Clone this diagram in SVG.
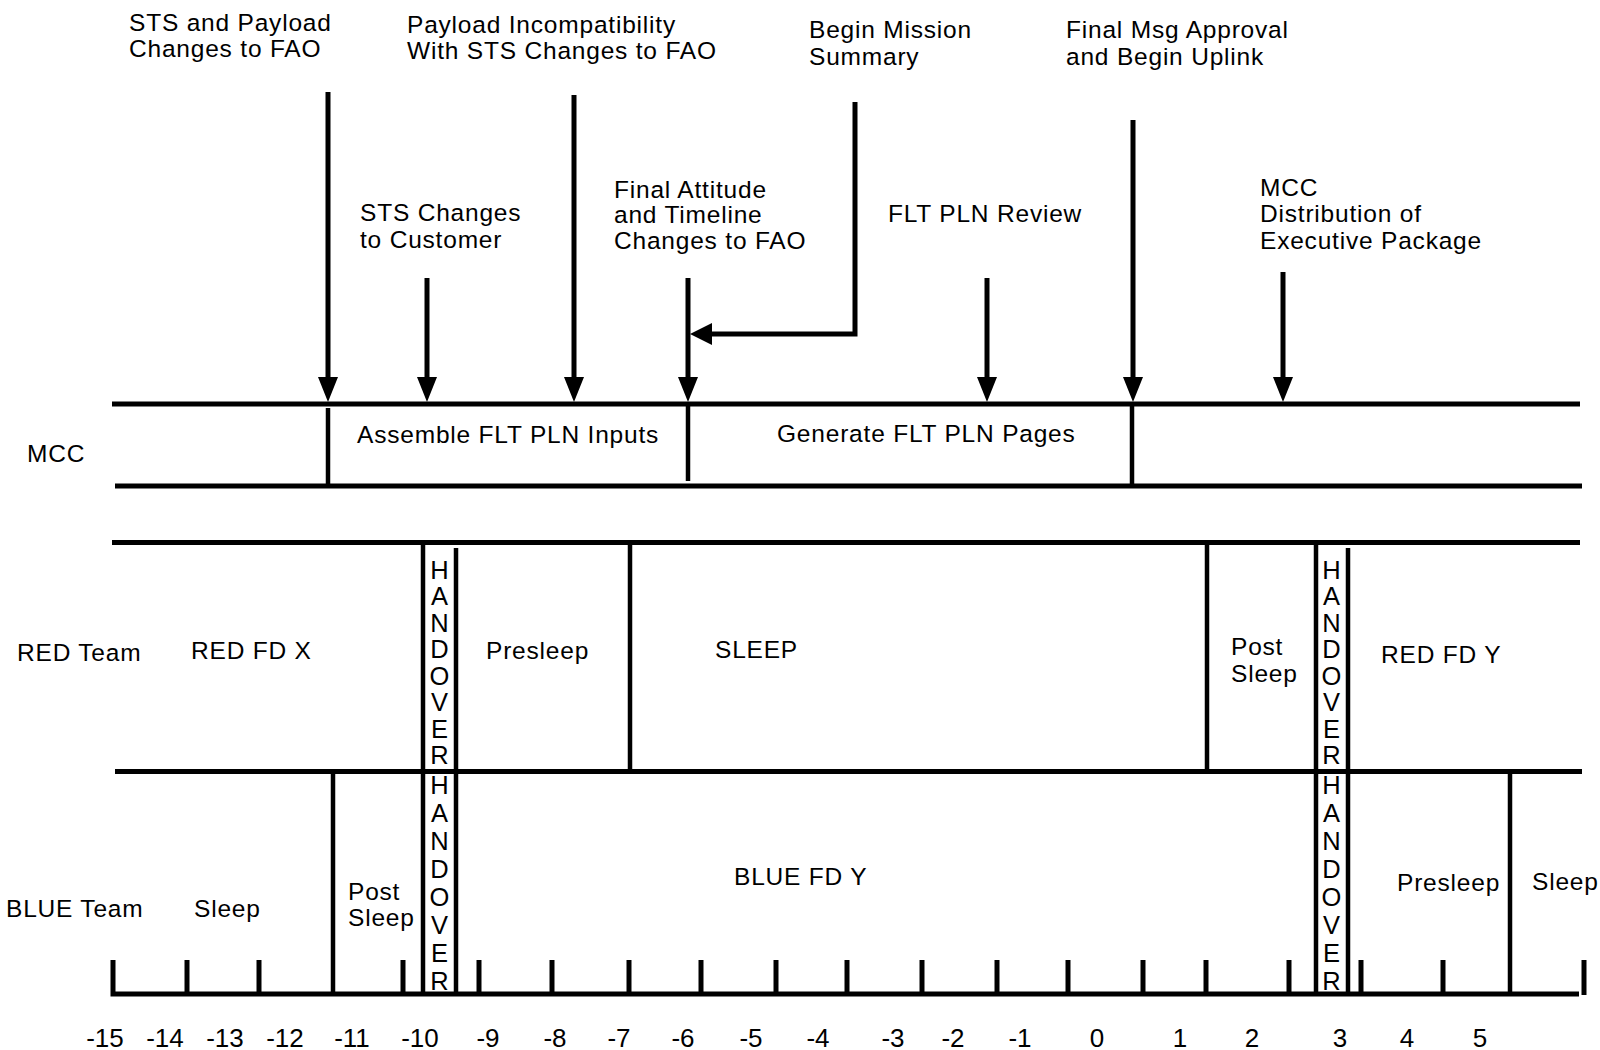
<svg xmlns="http://www.w3.org/2000/svg" width="1600" height="1050" viewBox="0 0 1600 1050">
<style>
text{font-family:"Liberation Sans",Arial,Helvetica,sans-serif;font-size:24.5px;letter-spacing:0.8px;fill:#000}
.ln{stroke:#000;stroke-width:5;fill:none}
.dv{stroke:#000;stroke-width:4.5;fill:none}
.tk{stroke:#000;stroke-width:5;fill:none}
.ho{text-anchor:middle;font-size:25.5px;letter-spacing:0}
.num{text-anchor:middle;font-size:26px;letter-spacing:0}
</style>
<defs>
<path id="adown" d="M-10,-25 L10,-25 L0,0 Z" fill="#000"/>
<path id="aleft" d="M0,0 L22,-11 L22,11 Z" fill="#000"/>
</defs>
<rect width="1600" height="1050" fill="#fff"/>

<g id="lanes">
<line class="ln" x1="112" y1="404" x2="1580" y2="404"/>
<line class="ln" x1="115" y1="486" x2="1582" y2="486"/>
<line class="ln" x1="112" y1="542.5" x2="1580" y2="542.5"/>
<line class="ln" x1="115" y1="771.5" x2="1582" y2="771.5"/>
<line class="dv" x1="328" y1="408" x2="328" y2="484"/>
<line class="dv" x1="688" y1="406" x2="688" y2="481"/>
<line class="dv" x1="1132" y1="404" x2="1132" y2="485"/>
<line class="dv" x1="630" y1="543" x2="630" y2="771"/>
<line class="dv" x1="1207" y1="543" x2="1207" y2="771"/>
<line class="dv" x1="333" y1="772" x2="333" y2="994"/>
<line class="dv" x1="1510" y1="772" x2="1510" y2="994"/>
</g>

<g id="handover1">
<line class="dv" x1="423" y1="543" x2="423" y2="994"/>
<line class="dv" x1="456" y1="548" x2="456" y2="994"/>
<text class="ho"><tspan x="439.5" y="578.5">H</tspan><tspan x="439.5" y="605">A</tspan><tspan x="439.5" y="631.5">N</tspan><tspan x="439.5" y="658">D</tspan><tspan x="439.5" y="684.5">O</tspan><tspan x="439.5" y="711">V</tspan><tspan x="439.5" y="737.5">E</tspan><tspan x="439.5" y="763.5">R</tspan></text>
<text class="ho"><tspan x="439.5" y="794">H</tspan><tspan x="439.5" y="822">A</tspan><tspan x="439.5" y="850">N</tspan><tspan x="439.5" y="878">D</tspan><tspan x="439.5" y="906">O</tspan><tspan x="439.5" y="934">V</tspan><tspan x="439.5" y="962">E</tspan><tspan x="439.5" y="990">R</tspan></text>
</g>

<g id="handover2">
<line class="dv" x1="1316" y1="543" x2="1316" y2="994"/>
<line class="dv" x1="1348" y1="548" x2="1348" y2="994"/>
<text class="ho"><tspan x="1331.5" y="578.5">H</tspan><tspan x="1331.5" y="605">A</tspan><tspan x="1331.5" y="631.5">N</tspan><tspan x="1331.5" y="658">D</tspan><tspan x="1331.5" y="684.5">O</tspan><tspan x="1331.5" y="711">V</tspan><tspan x="1331.5" y="737.5">E</tspan><tspan x="1331.5" y="763.5">R</tspan></text>
<text class="ho"><tspan x="1331.5" y="794">H</tspan><tspan x="1331.5" y="822">A</tspan><tspan x="1331.5" y="850">N</tspan><tspan x="1331.5" y="878">D</tspan><tspan x="1331.5" y="906">O</tspan><tspan x="1331.5" y="934">V</tspan><tspan x="1331.5" y="962">E</tspan><tspan x="1331.5" y="990">R</tspan></text>
</g>

<g id="axis">
<path class="tk" d="M113,960 V994 H1579"/>
<line class="tk" x1="187" y1="960" x2="187" y2="994"/>
<line class="tk" x1="259" y1="960" x2="259" y2="994"/>
<line class="tk" x1="403" y1="960" x2="403" y2="994"/>
<line class="tk" x1="479" y1="960" x2="479" y2="994"/>
<line class="tk" x1="552" y1="960" x2="552" y2="994"/>
<line class="tk" x1="629" y1="960" x2="629" y2="994"/>
<line class="tk" x1="701" y1="960" x2="701" y2="994"/>
<line class="tk" x1="776" y1="960" x2="776" y2="994"/>
<line class="tk" x1="847" y1="960" x2="847" y2="994"/>
<line class="tk" x1="922" y1="960" x2="922" y2="994"/>
<line class="tk" x1="997" y1="960" x2="997" y2="994"/>
<line class="tk" x1="1068" y1="960" x2="1068" y2="994"/>
<line class="tk" x1="1143" y1="960" x2="1143" y2="994"/>
<line class="tk" x1="1206" y1="960" x2="1206" y2="994"/>
<line class="tk" x1="1289" y1="960" x2="1289" y2="994"/>
<line class="tk" x1="1361" y1="960" x2="1361" y2="994"/>
<line class="tk" x1="1443" y1="960" x2="1443" y2="994"/>
<line class="tk" x1="1584" y1="960" x2="1584" y2="995"/>
<text class="num" x="105" y="1047">-15</text>
<text class="num" x="165" y="1047">-14</text>
<text class="num" x="225" y="1047">-13</text>
<text class="num" x="285" y="1047">-12</text>
<text class="num" x="352" y="1047">-11</text>
<text class="num" x="420" y="1047">-10</text>
<text class="num" x="488" y="1047">-9</text>
<text class="num" x="555" y="1047">-8</text>
<text class="num" x="619" y="1047">-7</text>
<text class="num" x="683" y="1047">-6</text>
<text class="num" x="751" y="1047">-5</text>
<text class="num" x="818" y="1047">-4</text>
<text class="num" x="893" y="1047">-3</text>
<text class="num" x="953" y="1047">-2</text>
<text class="num" x="1020" y="1047">-1</text>
<text class="num" x="1097" y="1047">0</text>
<text class="num" x="1180" y="1047">1</text>
<text class="num" x="1252" y="1047">2</text>
<text class="num" x="1340" y="1047">3</text>
<text class="num" x="1407" y="1047">4</text>
<text class="num" x="1480" y="1047">5</text>
</g>

<g id="connectors">
<line class="ln" x1="328" y1="92" x2="328" y2="380"/>
<use href="#adown" x="328" y="402"/>
<line class="ln" x1="427" y1="278" x2="427" y2="380"/>
<use href="#adown" x="427" y="402"/>
<line class="ln" x1="574" y1="95" x2="574" y2="380"/>
<use href="#adown" x="574" y="402"/>
<line class="ln" x1="688" y1="278" x2="688" y2="380"/>
<use href="#adown" x="688" y="402"/>
<line class="ln" x1="987" y1="278" x2="987" y2="380"/>
<use href="#adown" x="987" y="402"/>
<line class="ln" x1="1133" y1="120" x2="1133" y2="380"/>
<use href="#adown" x="1133" y="402"/>
<line class="ln" x1="1283" y1="272" x2="1283" y2="380"/>
<use href="#adown" x="1283" y="402"/>
<path class="ln" d="M855,102 V334 H710"/>
<use href="#aleft" x="690" y="334"/>
</g>

<g id="ev-sts-payload"><text><tspan x="129" y="30.5">STS and Payload</tspan><tspan x="129" y="57">Changes to FAO</tspan></text></g>
<g id="ev-payload-incompat"><text><tspan x="407" y="32.5">Payload Incompatibility</tspan><tspan x="407" y="59">With STS Changes to FAO</tspan></text></g>
<g id="ev-begin-mission"><text><tspan x="809" y="38">Begin Mission</tspan><tspan x="809" y="65">Summary</tspan></text></g>
<g id="ev-final-msg"><text><tspan x="1066" y="38">Final Msg Approval</tspan><tspan x="1066" y="65">and Begin Uplink</tspan></text></g>
<g id="ev-sts-customer"><text><tspan x="360" y="221">STS Changes</tspan><tspan x="360" y="247.5">to Customer</tspan></text></g>
<g id="ev-final-attitude"><text><tspan x="614" y="197.5">Final Attitude</tspan><tspan x="614" y="223">and Timeline</tspan><tspan x="614" y="248.5">Changes to FAO</tspan></text></g>
<g id="ev-flt-review"><text x="888" y="222">FLT PLN Review</text></g>
<g id="ev-mcc-dist"><text><tspan x="1260" y="195.5">MCC</tspan><tspan x="1260" y="222">Distribution of</tspan><tspan x="1260" y="248.5">Executive Package</tspan></text></g>

<g id="lane-mcc"><text x="27" y="462">MCC</text></g>
<g id="mcc-assemble"><text x="357" y="443">Assemble FLT PLN Inputs</text></g>
<g id="mcc-generate"><text x="777" y="441.5">Generate FLT PLN Pages</text></g>

<g id="lane-red"><text x="17" y="661">RED Team</text></g>
<g id="red-fdx"><text x="191" y="659">RED FD X</text></g>
<g id="red-presleep"><text x="486" y="659">Presleep</text></g>
<g id="red-sleep"><text x="715" y="658">SLEEP</text></g>
<g id="red-postsleep"><text><tspan x="1231" y="655">Post</tspan><tspan x="1231" y="682">Sleep</tspan></text></g>
<g id="red-fdy"><text x="1381" y="663">RED FD Y</text></g>

<g id="lane-blue"><text x="6" y="917">BLUE Team</text></g>
<g id="blue-sleep"><text x="194" y="917">Sleep</text></g>
<g id="blue-postsleep"><text><tspan x="348" y="899.5">Post</tspan><tspan x="348" y="926">Sleep</tspan></text></g>
<g id="blue-fdy"><text x="734" y="885">BLUE FD Y</text></g>
<g id="blue-presleep"><text x="1397" y="891">Presleep</text></g>
<g id="blue-sleep2"><text x="1532" y="890">Sleep</text></g>
</svg>
